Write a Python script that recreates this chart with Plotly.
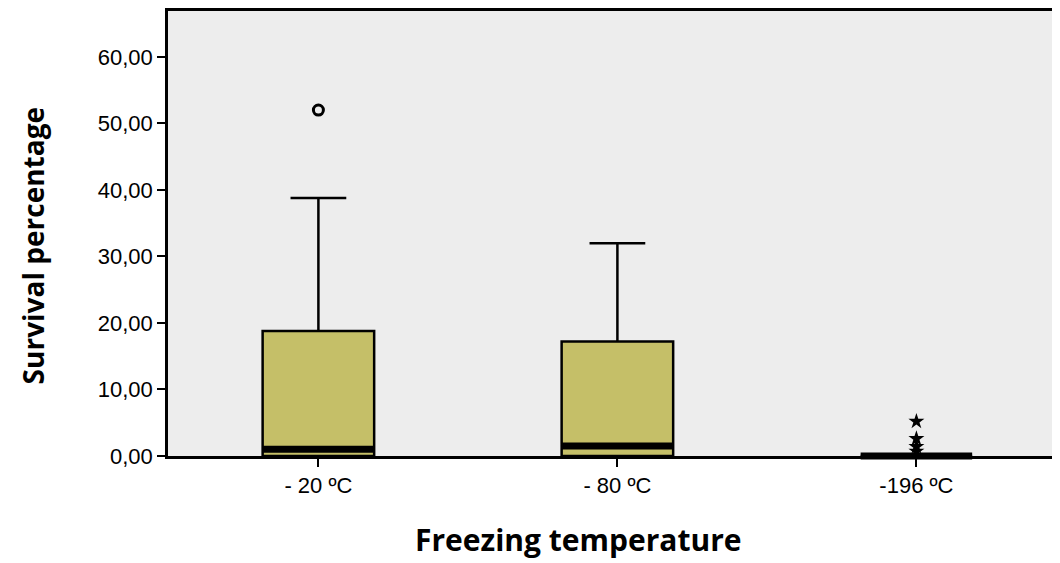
import plotly.graph_objects as go

categories = ["- 20 ºC", "- 80 ºC", "-196 ºC"]
q1 = [0.0, 0.0, 0.0]
median = [1.0, 1.5, 0.0]
q3 = [18.8, 17.2, 0.0]
lower_whisker = [0.0, 0.0, 0.0]
upper_whisker = [38.8, 32.0, 0.0]
outlier_cat = ["- 20 ºC"]
outlier_val = [52.0]
extreme_cat = ["-196 ºC", "-196 ºC", "-196 ºC", "-196 ºC"]
extreme_val = [5.2, 2.6, 1.4, 0.7]
y_ticks = [0, 10, 20, 30, 40, 50, 60]
y_ticklabels = ["0,00", "10,00", "20,00", "30,00", "40,00", "50,00", "60,00"]

BOX_W = 0.373
Y_MAX = 66.9
X_RANGE = [-0.503, 2.497]
fill = "#C5BF68"

fig = go.Figure()
fig.add_trace(go.Box(
    x=categories, q1=q1, median=median, q3=q3,
    lowerfence=lower_whisker, upperfence=upper_whisker,
    width=BOX_W, whiskerwidth=0.5,
    fillcolor=fill, line=dict(color="black", width=2.5),
    boxpoints=False, showlegend=False, hoverinfo="skip",
))
fig.add_trace(go.Scatter(
    x=outlier_cat, y=outlier_val, mode="markers",
    marker=dict(symbol="circle-open", size=10, color="black", line=dict(width=3)),
    showlegend=False,
))
fig.add_trace(go.Scatter(
    x=extreme_cat, y=extreme_val, mode="markers",
    marker=dict(symbol="star", size=12, color="black", line=dict(width=0)),
    showlegend=False, cliponaxis=False,
))

# thick median bars, placed in paper coordinates (derived from the category
# index and median value) so the zero-level bar is not clipped by the axes
span = X_RANGE[1] - X_RANGE[0]
for i, m in enumerate(median):
    fig.add_shape(type="line", xref="paper", yref="paper",
                  x0=(i - BOX_W / 2 - X_RANGE[0]) / span,
                  x1=(i + BOX_W / 2 - X_RANGE[0]) / span,
                  y0=m / Y_MAX, y1=m / Y_MAX,
                  line=dict(color="black", width=7), layer="above")

fig.update_layout(
    width=1060, height=563,
    margin=dict(l=160, r=0, t=1, b=115),
    paper_bgcolor="white", plot_bgcolor="#EDEDED",
    font=dict(family="Liberation Sans", size=22, color="black"),
    xaxis=dict(type="category", range=X_RANGE, showline=True, mirror=True,
               linecolor="black", linewidth=2.5, ticks="outside", ticklen=8,
               tickwidth=2, tickcolor="black", showgrid=False, zeroline=False,
               tickfont=dict(size=22)),
    yaxis=dict(range=[0, Y_MAX], tickvals=y_ticks, ticktext=y_ticklabels,
               showline=True, mirror=True, linecolor="black", linewidth=2.5,
               ticks="outside", ticklen=8, tickwidth=2, tickcolor="black",
               showgrid=False, zeroline=False, tickfont=dict(size=22)),
    annotations=[
        dict(text="Freezing temperature", xref="paper", yref="paper",
             x=0.458, y=-0.188, showarrow=False, xanchor="center", yanchor="middle",
             font=dict(family="Open Sans", size=30, weight="bold", color="black")),
        dict(text="Survival percentage", xref="paper", yref="paper",
             x=-0.15, y=0.472, showarrow=False, xanchor="center", yanchor="middle",
             textangle=-90,
             font=dict(family="Open Sans", size=28, weight="bold", color="black")),
    ],
)

fig.write_html("out.html")
